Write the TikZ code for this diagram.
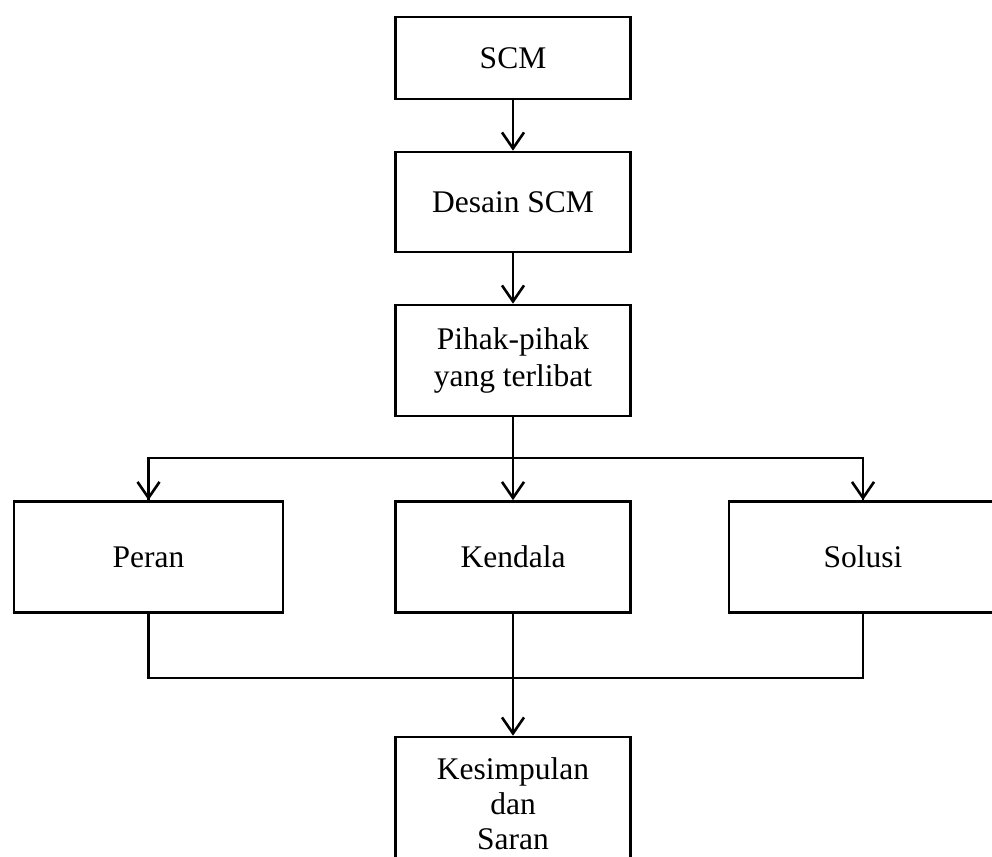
\documentclass[tikz,border=0pt]{standalone}
\usepackage{fontspec}
\setmainfont{Liberation Serif}
\usetikzlibrary{arrows.meta}
\begin{document}
\begin{tikzpicture}[x=1pt,y=-1pt,
  box/.style={draw,line width=2.6pt,rectangle,inner sep=0pt,align=center,
    font=\fontsize{31.5}{36.5}\selectfont},
  conn/.style={line width=2.6pt},
  arr/.style={conn,-{Straight Barb[length=16pt,width=22pt,line width=2.6pt]}}]
\useasboundingbox (0,0) rectangle (992,856);
\clip (0,0) rectangle (992,856);
\node[box,minimum width=235pt,minimum height=82pt] (scm) at (513,58) {SCM};
\node[box,minimum width=235pt,minimum height=100pt] (desain) at (513,202) {Desain SCM};
\node[box,minimum width=235pt,minimum height=111pt] (pihak) at (513,360.5) {Pihak-pihak\\yang terlibat};
\node[box,minimum width=269pt,minimum height=111pt] (peran) at (148.5,557) {Peran};
\node[box,minimum width=235pt,minimum height=111pt] (kendala) at (513,557) {Kendala};
\node[box,minimum width=268pt,minimum height=111pt] (solusi) at (863,557) {Solusi};
\node[box,minimum width=235pt,minimum height=134pt,font=\fontsize{31.5}{35}\selectfont] (kesim) at (513,804) {Kesimpulan\\dan\\Saran};
\coordinate (jt) at (513,458);
\coordinate (jb) at (513,678);
\draw[arr] (scm) -- (desain);
\draw[arr] (desain) -- (pihak);
\draw[conn] (pihak.south) -- (jt);
\draw[arr] (jt) -- (kendala.north);
\draw[conn] (jt) -| (peran.north);
\draw[arr] (peran.north |- jt) -- (peran.north);
\draw[conn] (jt) -| (solusi.north);
\draw[arr] (solusi.north |- jt) -- (solusi.north);
\draw[conn] (peran.south) |- (jb) -| (solusi.south);
\draw[conn] (kendala.south) -- (jb);
\draw[arr] (jb) -- (kesim.north);
\end{tikzpicture}
\end{document}
